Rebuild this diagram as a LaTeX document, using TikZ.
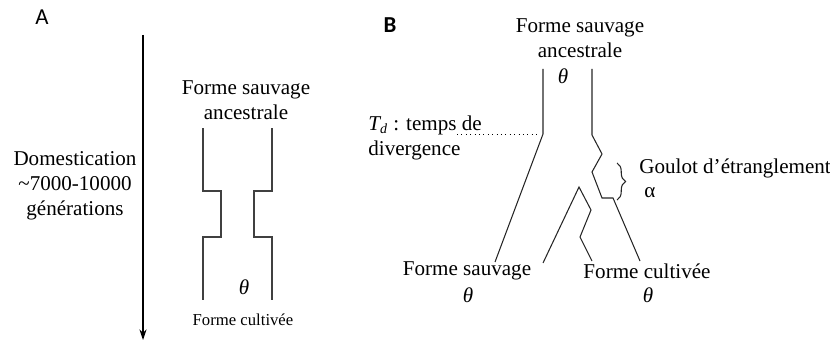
\documentclass[tikz,border=0pt]{standalone}
\usepackage{fontspec}
\setmainfont{Liberation Serif}
\newfontfamily\panelfont{Carlito}
\usetikzlibrary{arrows.meta,decorations.pathreplacing}

\tikzset{
	txt/.style={align=center, inner sep=0pt, font=\fontsize{12}{14.2}\selectfont},
	smalltxt/.style={inner sep=0pt, font=\fontsize{9.5}{11}\selectfont},
	panel/.style={inner sep=0pt, font=\panelfont\fontsize{13}{15}\selectfont},
	wall/.style={line width=0.8pt, color=black!75},
	branch/.style={line width=0.6pt, color=black!85},
}

\begin{document}
\begin{tikzpicture}[x=0.02cm, y=-0.02cm]
		%%%%% START %%%%%
		\useasboundingbox (0, 0) rectangle (830, 341);
		
		% panel A
		\node[panel] (pA) at (42, 17) {A};
		\draw[line width=0.6pt, -{Stealth[length=6pt, width=4pt]}] (143, 35) -- (143, 340);
		\node[txt] (domest) at (75, 186) {Domestication\\\textasciitilde7000-10000\\générations};
		\node[txt] (ancA) at (246, 100) {Forme sauvage\\ancestrale};
		
		\draw[wall] (203, 128) -- (203, 191) -- (221, 191) -- (221, 237) -- (203, 237) -- (203, 300);
		\draw[wall] (272, 128) -- (272, 191) -- (254, 191) -- (254, 237) -- (272, 237) -- (272, 300);
		
		\node[txt] (thetaA) at (244, 287) {\itshape θ};
		\node[smalltxt] (cultA) at (243, 320) {Forme cultivée};
		
		% panel B
		\node[panel, font=\panelfont\bfseries\fontsize{13}{15}\selectfont] (pB) at (390, 25) {B};
		\node[txt] (ancB) at (580, 38) {Forme sauvage\\ancestrale};
		\node[txt] (thetaB) at (563, 76) {\itshape θ};
		
		\draw[branch] (543, 69) -- (543, 134) -- (495, 262);
		\draw[branch] (592, 69) -- (592, 135) -- (602, 154) -- (592, 172) -- (602, 198) -- (613, 198) -- (640, 261);
		\draw[branch] (543, 263) -- (579, 187) -- (591, 210) -- (580, 237) -- (592, 261);
		
		\draw[line width=0.5pt, dotted] (457, 134) -- (540, 134);
		\node[txt, align=left, anchor=west] (tdiv) at (368, 138) {{\itshape T}\textsubscript{\itshape d} : temps de\\divergence};
		
		\draw[branch, decorate, decoration={brace, amplitude=0.17cm}] (617, 163) -- (617, 200);
		\node[txt, anchor=west] (goulot) at (639, 168) {Goulot d’étranglement};
		\node[txt] (alpha) at (650, 193) {α};
		
		\node[txt] (wildB) at (467, 271) {Forme sauvage};
		\node[txt] (thetaW) at (468, 295) {\itshape θ};
		\node[txt] (cultB) at (647, 271) {Forme cultivée};
		\node[txt] (thetaC) at (648, 295) {\itshape θ};
		%%%%% END %%%%%
	\end{tikzpicture}
\end{document}
